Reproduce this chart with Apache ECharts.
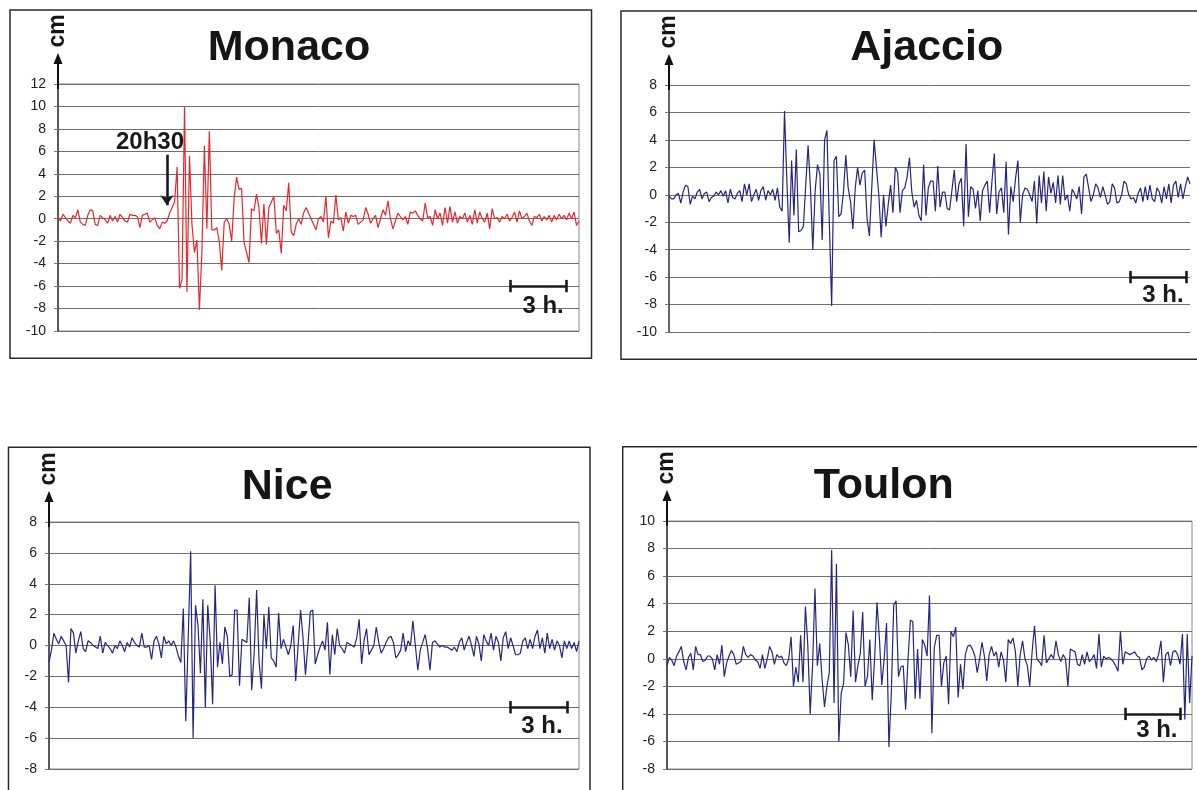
<!DOCTYPE html>
<html><head><meta charset="utf-8">
<script src="https://cdn.jsdelivr.net/npm/echarts@6/dist/echarts.min.js"></script>
<style>html,body{margin:0;padding:0;background:#fff;}#chart{width:1197px;height:790px;}</style>
</head><body><div id="chart"></div>
<script>
// ---- data (cm, one sample per step) ----
const monacoCm = [0.2,-0.2,0.4,0.1,-0.2,-0.4,0.3,0.1,0.8,-0.3,-0.5,-0.6,0.3,0.8,0.7,-0.5,-0.6,0.3,0.1,-0.1,-0.4,0.3,-0.2,0.2,-0.3,0.4,0.1,-0.2,-0.3,0.4,0.3,0.3,0.2,-0.8,0.3,0.4,0.5,-0.3,-0.1,0.1,-0.6,-0.9,-0.3,-0.4,-0.2,
 0.5,1.0,1.5,4.6,-6.2,-5.4,10.0,-6.5,5.6,-0.5,-3.0,-1.9,-8.1,-3.0,6.5,-0.9,7.8,-1.0,-1.0,-0.8,-2.0,-4.6,-0.3,0.0,-0.5,-2.0,1.8,3.7,2.6,2.7,-2.1,-3.0,-3.9,0.9,0.7,2.2,1.0,-2.2,1.3,-2.3,1.0,1.5,2.0,-1.3,-1.0,-3.1,1.2,0.7,3.2,-1.2,-1.5,-0.5,0.0,-0.5,0.5,1.0,0.5,0.0,-0.5,-1.0,0.0,0.2,-0.3,2.0,-1.7,-0.2,-0.4,2.1,-0.1,0.1,-1.1,0.6,-0.4,0.3,0.2,0.3,-0.5,-0.3,-0.1,1.0,0.4,-0.4,0.0,0.3,-0.8,
 0.0,0.8,0.3,1.6,0.0,-0.9,-0.2,0.5,0.2,-0.1,0.2,-0.5,0.6,0.5,0.7,0.3,0.0,-0.2,1.4,0.1,0.2,-0.6,0.8,0.0,0.5,-0.6,1.0,-0.4,1.1,-0.3,0.6,-0.4,0.2,0.0,0.5,-0.3,0.3,-0.5,0.8,-0.4,0.6,0.0,-0.3,0.5,-0.9,0.9,0.0,0.1,-0.3,0.2,0.0,0.4,-0.2,0.1,0.6,-0.3,0.7,0.0,0.2,0.5,-0.2,-0.6,0.2,0.1,0.4,-0.2,0.2,-0.1,0.3,-0.3,0.3,-0.1,0.4,0.0,0.3,-0.1,0.5,0.0,0.6,-0.6,-0.2];
const ajaccioCm = [-0.1,-0.3,-0.3,0.0,0.1,-0.6,0.2,0.7,0.6,-0.7,-0.1,-0.3,0.2,0.4,-0.3,0.1,0.2,-0.5,-0.2,-0.1,0.2,0.0,0.3,-0.1,0.3,-0.6,0.4,-0.2,-0.3,0.1,0.3,-0.5,0.8,0.0,0.8,-0.5,0.0,0.4,-0.4,0.3,0.6,-0.4,0.3,0.0,0.4,-0.4,0.5,-0.9,-1.2,
 6.1,1.0,-3.5,2.5,-1.5,3.3,-2.7,-2.6,-2.3,0.7,3.6,0.5,-4.0,0.3,2.2,1.5,-3.3,4.0,4.7,-2.0,-8.1,2.5,2.8,-1.6,-1.4,0.2,2.9,0.5,-0.5,-2.5,0.5,2.0,0.7,1.6,1.8,-1.7,-3.0,0.5,4.0,2.0,0.0,-3.1,0.0,-2.3,-0.7,0.7,-1.3,2.0,1.6,-1.3,0.3,0.5,1.3,2.7,0.2,-0.9,-0.4,-1.5,-1.9,2.2,-1.5,0.5,1.0,1.0,-1.2,2.1,-0.9,0.2,0.2,-1.0,-1.1,0.3,1.8,-0.5,0.8,1.2,-2.3,3.7,-1.6,0.6,0.4,-1.0,0.3,-1.9,0.3,0.7,1.0,-1.3,1.0,
 3.0,-1.4,0.2,0.5,-1.3,2.4,-2.9,0.6,-0.5,1.2,2.5,-2.0,0.0,0.5,0.4,0.0,-0.5,1.0,-2.1,1.4,-0.6,1.7,-1.2,1.3,0.1,0.9,-0.6,1.4,-0.7,1.4,-0.4,0.0,-1.2,0.4,0.1,-0.3,0.6,-1.4,1.3,1.5,0.5,-0.5,0.0,0.8,0.5,-0.2,0.6,0.0,-0.7,-0.5,0.8,0.5,-0.6,-0.5,0.0,1.0,0.8,0.0,-0.3,-0.2,-0.6,0.1,0.5,-0.5,0.6,-0.4,0.7,-0.3,-0.5,0.5,0.2,-0.6,0.6,-0.3,0.8,-0.6,0.7,1.0,-0.2,0.8,-0.3,0.6,1.3,0.8];
const niceCm = [-1.1,-0.3,0.8,0.4,0.1,0.6,0.3,0.0,-2.4,1.1,0.8,-0.5,0.3,0.9,-0.2,-0.4,0.3,0.2,0.0,-0.1,-0.2,0.6,-0.5,0.2,0.0,-0.2,-0.5,0.0,-0.2,0.3,0.0,-0.4,0.2,-0.1,0.5,0.2,0.0,-0.1,0.8,-0.1,-0.1,0.0,-0.9,0.3,0.6,0.1,-0.8,0.6,0.1,0.3,0.0,0.3,-0.1,-0.7,-1.1,
 2.4,-4.9,0.5,6.1,-6.0,2.6,1.3,-1.8,3.0,-4.0,2.6,0.3,-3.8,3.9,-1.4,0.2,-1.2,1.2,0.6,-2.0,-1.9,2.3,2.3,-2.6,0.4,0.3,0.2,3.1,-2.9,-0.5,3.6,-1.0,-2.8,2.0,-0.2,2.5,-0.8,-1.0,-1.4,2.1,-0.2,0.4,-0.1,-0.6,0.0,1.3,-2.3,0.0,2.3,0.5,-1.9,0.0,2.2,2.3,-1.2,-0.6,-0.1,0.3,-0.3,1.5,-1.9,0.7,-0.6,1.1,0.0,-0.2,-0.5,0.2,0.1,0.0,-0.1,0.5,1.7,-1.2,0.3,1.1,-0.6,-0.3,0.0,1.2,0.2,-0.5,-0.2,0.2,0.5,0.6,0.2,-0.8,-0.6,
 -0.3,0.8,-0.4,0.3,0.0,1.6,0.0,-1.6,-0.3,0.2,0.7,-0.2,-1.6,0.2,0.3,0.1,-0.1,0.0,-0.1,-0.1,-0.2,-0.3,-0.1,-0.4,0.2,0.5,-0.3,0.2,0.6,0.0,-0.7,0.6,0.1,-1.0,0.7,0.3,0.0,0.8,-0.3,0.6,0.2,-1.0,0.5,0.9,-0.2,0.5,0.0,-0.6,-0.6,-0.5,0.3,0.5,-0.2,0.4,-0.2,0.6,1.0,-0.2,0.5,-0.5,0.8,-0.2,0.4,-0.3,0.3,0.0,-0.8,0.3,-0.2,0.3,-0.2,0.2,-0.4,0.3];
const toulonCm = [-0.5,0.1,-0.1,-0.5,0.2,0.5,0.9,-0.2,-0.8,0.1,0.4,-0.8,0.9,0.3,0.3,-0.2,-0.1,0.2,0.2,0.0,-0.8,0.3,-0.4,1.0,-1.3,-0.3,0.2,0.6,0.3,-0.4,-0.3,-0.2,0.9,0.3,0.1,0.3,0.2,-0.1,-0.2,-0.7,0.3,-0.7,0.0,0.9,0.5,-0.4,0.3,0.1,0.2,-0.3,-0.5,0.0,
 1.6,-2.0,-0.6,-1.7,1.7,-1.7,3.8,1.0,-4.0,-0.5,5.1,-0.5,1.1,-1.5,-3.5,-2.0,-1.0,7.9,-3.2,6.9,-6.0,-2.5,-1.8,1.9,1.0,-1.3,3.5,-1.7,-0.5,0.4,3.4,-2.0,-1.3,1.4,-3.0,0.0,4.1,1.5,-1.9,0.0,2.6,-6.4,-2.5,3.9,4.2,-1.3,-0.6,-0.5,-3.7,0.0,2.8,2.7,-2.9,0.7,-2.9,1.4,1.0,0.2,4.6,-5.4,0.8,1.7,1.7,-2.0,-0.3,0.2,-3.3,2.0,1.6,2.3,-2.8,-0.4,-2.2,0.3,0.9,1.0,0.7,0.2,-1.0,0.0,1.2,0.2,-1.6,0.3,0.9,0.2,0.5,-0.6,0.5,-0.1,-1.7,1.4,
 1.1,1.5,0.5,-2.0,0.3,1.3,0.0,-0.5,-2.0,0.5,2.4,0.0,-0.2,-0.5,1.7,-0.3,0.0,0.3,0.0,1.3,0.3,-0.2,0.3,0.0,-2.0,0.7,0.6,0.5,-0.4,-0.5,0.3,-0.4,0.5,-0.2,0.0,0.3,-0.7,1.8,-0.6,0.2,0.0,0.1,0.0,-0.2,-0.5,-0.9,2.0,-0.4,0.5,0.4,0.3,0.4,0.5,0.2,0.1,-0.8,-0.6,0.0,0.2,-0.1,0.1,-0.2,0.3,1.3,-1.7,0.3,0.5,-0.5,0.5,0.6,0.3,-0.4,1.8,-4.4,1.8,-3.2,0.2];

const monacoTicks  = [-10,-8,-6,-4,-2,0,2,4,6,8,10,12];
const ajaccioTicks = [-10,-8,-6,-4,-2,0,2,4,6,8];
const niceTicks    = [-8,-6,-4,-2,0,2,4,6,8];
const toulonTicks  = [-8,-6,-4,-2,0,2,4,6,8,10];

const stationNames = ['Monaco','Ajaccio','Nice','Toulon'];
const unitLabel = 'cm';
const scaleLabel = '3 h.';
const onsetLabel = '20h30';

// ---- layout / style ----
const FONT = 'Liberation Sans, Arial, Helvetica, sans-serif';
const panels = [
  {name: stationNames[0], data: monacoCm, ticks: monacoTicks, color: '#e8272d', frame: true,
   grid: {left: 58, top: 84, width: 521, height: 247}, box: [10, 10, 581.5, 348.3],
   title: {x: 289, top: 27},
   bar: {from: 0.869, to: 0.976, y: -6, cap: 0.55, tx: 0.931, ty: -7.77},
   onset: {x: 0.209, y1: 5.7, y2: 1.2, tx: 0.1766, ty: 6.83}},
  {name: stationNames[1], data: ajaccioCm, ticks: ajaccioTicks, color: '#262680', frame: false,
   grid: {left: 669, top: 85, width: 521, height: 247}, box: [621, 11, 620, 348.3],
   title: {x: 926.7, top: 27},
   bar: {from: 0.885, to: 0.992, y: -6, cap: 0.45, tx: 0.948, ty: -7.35}},
  {name: stationNames[2], data: niceCm, ticks: niceTicks, color: '#262680', frame: true,
   grid: {left: 49, top: 522, width: 530, height: 247}, box: [8.5, 447.3, 581.5, 400],
   title: {x: 287.2, top: 465.5},
   bar: {from: 0.871, to: 0.977, y: -4, cap: 0.4, tx: 0.930, ty: -5.24}},
  {name: stationNames[3], data: toulonCm, ticks: toulonTicks, color: '#262680', frame: true,
   grid: {left: 667, top: 521, width: 525, height: 248}, box: [622.7, 446.7, 620, 400],
   title: {x: 883.7, top: 465},
   bar: {from: 0.872, to: 0.977, y: -4, cap: 0.45, tx: 0.933, ty: -5.18}}
];

const chart = echarts.init(document.getElementById('chart'), null, {renderer: 'canvas'});

const option = {
  animation: false,
  backgroundColor: '#fff',
  title: panels.map(p => ({
    text: p.name, left: p.title.x, top: p.title.top, textAlign: 'center', textVerticalAlign: 'top', padding: 0,
    textStyle: {fontFamily: FONT, fontSize: 43, fontWeight: 'bold', color: '#151515'}
  })),
  grid: panels.map(p => Object.assign({show: p.frame, borderColor: '#8a8a8a', borderWidth: 1, backgroundColor: 'transparent'}, p.grid)),
  xAxis: panels.map((p, i) => ({
    type: 'value', gridIndex: i, min: 0, max: p.data.length - 1,
    axisLine: {show: false}, axisTick: {show: false}, axisLabel: {show: false}, splitLine: {show: false}
  })),
  yAxis: panels.map((p, i) => ({
    type: 'value', gridIndex: i, min: p.ticks[0], max: p.ticks[p.ticks.length - 1], interval: 2,
    name: unitLabel, nameLocation: 'end', nameRotate: 90, nameGap: 53,
    nameTextStyle: {fontFamily: FONT, fontSize: 23, fontWeight: 'bold', color: '#151515', align: 'center', verticalAlign: 'middle'},
    axisLine: {show: true, lineStyle: {color: '#333', width: 1.5}},
    axisTick: {show: true, length: 4, lineStyle: {color: '#777'}},
    axisLabel: {fontFamily: FONT, fontSize: 14, color: '#1e1e1e', margin: 12},
    splitLine: {show: true, lineStyle: {color: '#6e6e6e', width: 1}}
  })),
  series: panels.map((p, i) => {
    const n = p.data.length - 1;
    const b = p.bar;
    const lines = [
      [{coord: [b.from * n, b.y]}, {coord: [b.to * n, b.y]}],
      [{coord: [b.from * n, b.y - b.cap]}, {coord: [b.from * n, b.y + b.cap]}],
      [{coord: [b.to * n, b.y - b.cap]}, {coord: [b.to * n, b.y + b.cap]}]
    ];
    const points = [{coord: [b.tx * n, b.ty], label: {formatter: scaleLabel}}];
    if (p.onset) {
      const o = p.onset;
      lines.push([{coord: [o.x * n, o.y1], symbol: 'none'},
                  {coord: [o.x * n, o.y2], symbol: 'arrow', symbolSize: [10, 10]}]);
      points.push({coord: [o.tx * n, o.ty], label: {formatter: onsetLabel}});
    }
    return {
      type: 'line', xAxisIndex: i, yAxisIndex: i, name: p.name,
      data: p.data.map((v, k) => [k, v]),
      showSymbol: false, symbol: 'none', smooth: false,
      lineStyle: {color: p.color, width: 1.2},
      itemStyle: {color: p.color},
      emphasis: {disabled: true},
      silent: true,
      markLine: {
        silent: true, animation: false, symbol: 'none',
        label: {show: false}, emphasis: {disabled: true},
        lineStyle: {color: '#1a1a1a', width: 2.6, type: 'solid'},
        data: lines
      },
      markPoint: {
        silent: true, animation: false, symbol: 'circle', symbolSize: 1,
        itemStyle: {color: 'transparent'},
        label: {show: true, position: 'inside', fontFamily: FONT, fontSize: 24, fontWeight: 'bold', color: '#1a1a1a'},
        data: points
      }
    };
  })
};
chart.setOption(option);

// frame boxes and the y-axis arrows above each plot
const gfx = [];
panels.forEach((p, i) => {
  gfx.push({type: 'rect', shape: {x: p.box[0], y: p.box[1], width: p.box[2], height: p.box[3]},
            style: {fill: 'none', stroke: '#2a2a2a', lineWidth: 1.5}, silent: true, z: -1});
  const top = chart.convertToPixel({gridIndex: i}, [0, p.ticks[p.ticks.length - 1]]);
  const x = Math.round(top[0]), y = top[1];
  gfx.push({type: 'line', shape: {x1: x, y1: y + 5, x2: x, y2: y - 22}, style: {stroke: '#111', lineWidth: 2}, silent: true, z: 10});
  gfx.push({type: 'polygon', shape: {points: [[x - 4.5, y - 20], [x, y - 31], [x + 4.5, y - 20]]}, style: {fill: '#111'}, silent: true, z: 10});
});
chart.setOption({graphic: gfx});
</script>
</body></html>
